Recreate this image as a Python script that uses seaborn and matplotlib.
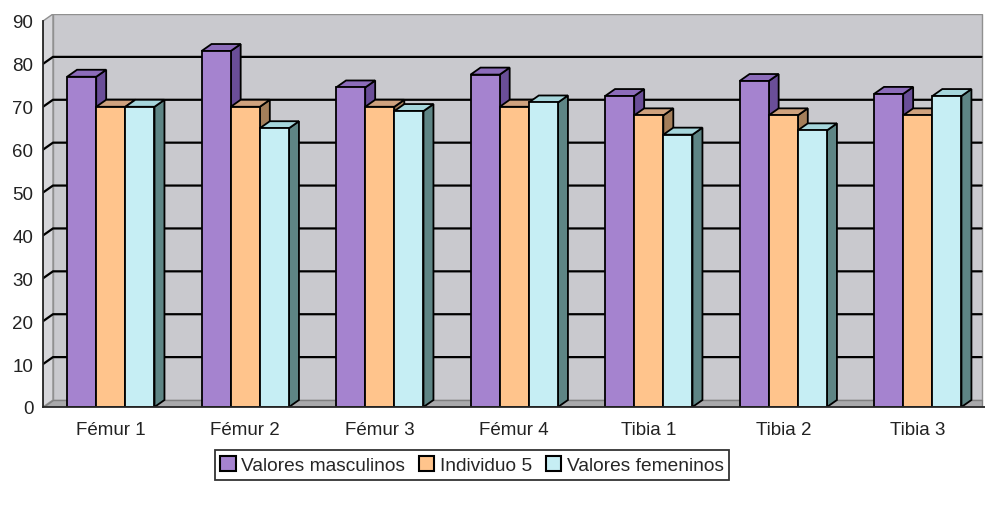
import numpy as np
import pandas as pd
import matplotlib
matplotlib.use('Agg')
import matplotlib.pyplot as plt
import matplotlib.patches as mpatches
import seaborn as sns

# Data
huesos = ['Fémur 1', 'Fémur 2', 'Fémur 3', 'Fémur 4', 'Tibia 1', 'Tibia 2', 'Tibia 3']
series = ['Valores masculinos', 'Individuo 5', 'Valores femeninos']
masculinos = [77, 83, 74.5, 77.5, 72.5, 76, 73]
individuo5 = [70, 70, 70, 70, 68, 68, 68]
femeninos = [70, 65, 69, 71, 63.5, 64.5, 72.5]

front_colors = ['#a583cf', '#ffc48c', '#c6eef4']
side_colors = ['#6a4e98', '#a47e5a', '#5e8585']
top_colors = ['#8c6cba', '#cfa27e', '#a6d6dc']

df = pd.DataFrame({
    'Hueso': huesos * 3,
    'Serie': [s for s in series for _ in huesos],
    'Valor': masculinos + individuo5 + femeninos,
})

sns.set_style('white')
plt.rcParams['font.family'] = ['Liberation Sans', 'DejaVu Sans']

fig = plt.figure(figsize=(9.85, 5.1), dpi=100)
ax = fig.add_axes([43 / 985, 0.2, 1 - 43 / 985, 393 / 510])

sns.barplot(data=df, x='Hueso', y='Valor', hue='Serie', palette=front_colors,
            width=0.65, saturation=1, edgecolor='black', linewidth=1.3,
            legend=False, ax=ax)

xl, xr = -0.504, 6.474
ax.set_xlim(xl, xr)
# depth of the fake 3D effect in pixels, converted to data units
px_x = (xr - xl) / (985 - 43)
ddx = 10 * px_x
ddy = 7 / (393 / 91.63)
top = 90 + ddy
ax.set_ylim(0, top)

# walls and floor
ax.add_patch(mpatches.Polygon([(xl + ddx, ddy), (xr, ddy), (xr, top), (xl + ddx, top)],
                              closed=True, facecolor='#c9c9ce', edgecolor='#909090',
                              lw=1, zorder=0.5))
ax.add_patch(mpatches.Polygon([(xl, 0), (xl + ddx, ddy), (xl + ddx, top), (xl, 90)],
                              closed=True, facecolor='#d6d6da', edgecolor='#909090',
                              lw=1, zorder=0.6))
ax.add_patch(mpatches.Polygon([(xl, 0), (xr, 0), (xr, ddy), (xl + ddx, ddy)],
                              closed=True, facecolor='#a9a9ab', edgecolor='#808080',
                              lw=1, zorder=0.7))
for v in range(10, 90, 10):
    ax.plot([xl, xl + ddx, xr], [v, v + ddy, v + ddy], color='black', lw=1.6, zorder=1)

# 3D side and top faces for every bar, drawn left to right
bars = sorted([p for p in ax.patches if isinstance(p, mpatches.Rectangle)],
              key=lambda p: p.get_x())
for i, bar in enumerate(bars):
    x0 = bar.get_x()
    x1 = x0 + bar.get_width()
    h = bar.get_height()
    k = front_colors.index(matplotlib.colors.to_hex(bar.get_facecolor()))
    z = 3 + i * 0.01
    side = mpatches.Polygon([(x1, 0), (x1 + ddx, ddy), (x1 + ddx, h + ddy), (x1, h)],
                            closed=True, facecolor=side_colors[k], edgecolor='black',
                            lw=1.3, zorder=z)
    topf = mpatches.Polygon([(x0, h), (x1, h), (x1 + ddx, h + ddy), (x0 + ddx, h + ddy)],
                            closed=True, facecolor=top_colors[k], edgecolor='black',
                            lw=1.3, zorder=z)
    ax.add_patch(side)
    ax.add_patch(topf)
    bar.set_zorder(z + 0.005)

# axes styling
for s in ['top', 'right']:
    ax.spines[s].set_visible(False)
ax.spines['left'].set_bounds(0, 90)
ax.spines['left'].set_linewidth(1.3)
ax.spines['bottom'].set_linewidth(1.3)
ax.spines['left'].set_zorder(5)
ax.spines['bottom'].set_zorder(5)
ax.set_yticks(range(0, 91, 10))
ax.tick_params(axis='y', length=5, width=1.2, direction='out', labelsize=13.5, pad=2,
               colors='black', labelcolor='#222222')
ax.set_xticks(range(len(huesos)), huesos)
ax.set_xticks(np.arange(0.5, len(huesos), 1), minor=True)
ax.tick_params(axis='x', which='major', length=0, labelsize=13.5, pad=10, labelcolor='#222222')
ax.tick_params(axis='x', which='minor', length=6, width=1.2, direction='out', colors='black')
ax.set_xlabel('')
ax.set_ylabel('')

handles = [mpatches.Patch(facecolor=c, edgecolor='black', lw=1.5, label=s)
           for c, s in zip(front_colors, series)]
leg = fig.legend(handles=handles, loc='center', bbox_to_anchor=(472 / 985, 44 / 510),
                 ncol=3, fontsize=13.8, frameon=True, fancybox=False, edgecolor='black',
                 handlelength=0.8, handleheight=0.8, handletextpad=0.3, columnspacing=0.7,
                 borderpad=0.3, borderaxespad=0)
leg.get_frame().set_linewidth(1.3)

fig.savefig('out.png', dpi=100, facecolor='white')
